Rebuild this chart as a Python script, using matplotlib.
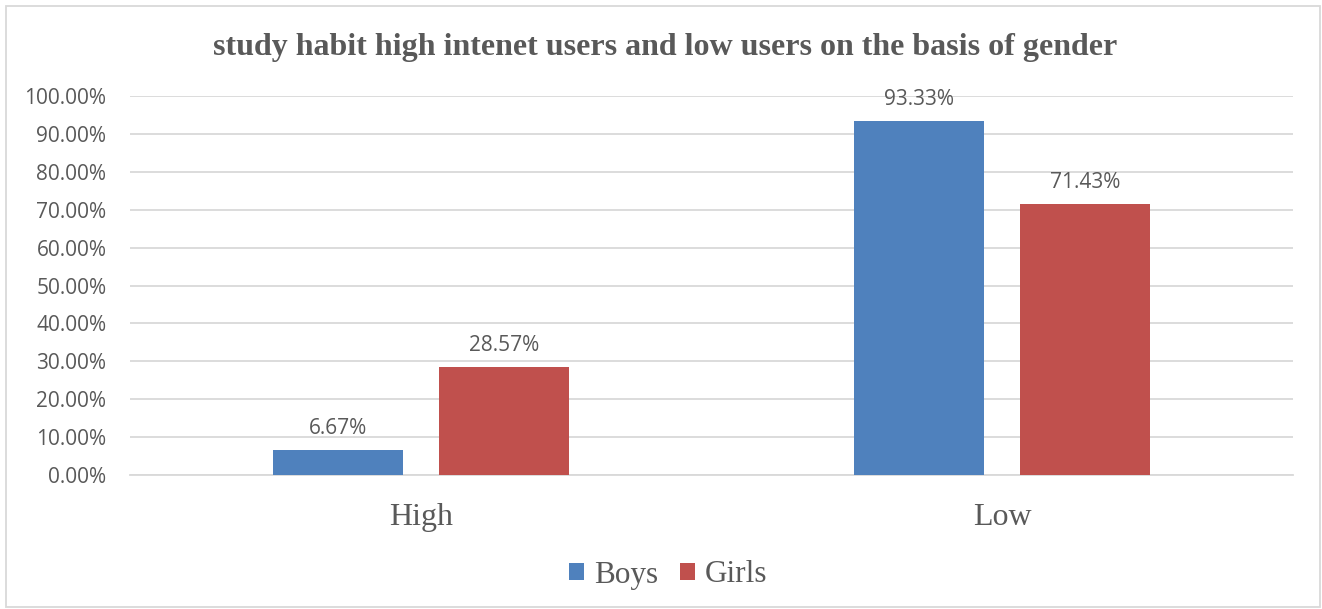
import numpy as np
import matplotlib.pyplot as plt
from matplotlib.patches import Rectangle
from matplotlib.ticker import PercentFormatter

categories = ["High", "Low"]
series_names = ["Boys", "Girls"]
boys = [6.67, 93.33]
girls = [28.57, 71.43]
colors = ["#4F81BD", "#C0504D"]
title = "study habit high intenet users and low users on the basis of gender"

text_gray = "#595959"
grid_gray = "#D9D9D9"

fig = plt.figure(figsize=(13.22, 6.09), dpi=100)
ax = fig.add_axes([130 / 1322, 1 - 475 / 609, 1163 / 1322, 379 / 609])

# outer chart border
fig.patches.append(Rectangle((6 / 1322, 2 / 609), 1314 / 1322, 601 / 609,
                             transform=fig.transFigure, fill=False,
                             edgecolor=grid_gray, linewidth=1.3))

x = np.arange(len(categories))
width = 0.2236
offset = 0.1427

for vals, name, c, d in [(boys, series_names[0], colors[0], -offset),
                         (girls, series_names[1], colors[1], offset)]:
    bars = ax.bar(x + d, vals, width, color=c, label=name, zorder=3)
    for b, v in zip(bars, vals):
        ax.annotate(f"{v:.2f}%", (b.get_x() + b.get_width() / 2, v),
                    xytext=(0, 8), textcoords="offset points",
                    ha="center", va="bottom", fontsize=15,
                    family="Open Sans", color=text_gray)

ax.set_xlim(-0.5, 1.5)
ax.set_ylim(0, 100)
ax.set_yticks(np.arange(0, 101, 10))
ax.yaxis.set_major_formatter(PercentFormatter(decimals=2))
ax.grid(axis="y", color=grid_gray, linewidth=1.3, zorder=0)
ax.set_axisbelow(True)
for s in ["top", "right", "left"]:
    ax.spines[s].set_visible(False)
ax.spines["bottom"].set_color(grid_gray)
ax.spines["bottom"].set_linewidth(1.3)
ax.tick_params(axis="both", length=0)
ax.tick_params(axis="y", pad=17)
ax.tick_params(axis="x", pad=20)
for lab in ax.get_yticklabels():
    lab.set_fontfamily("Open Sans")
    lab.set_fontsize(15)
    lab.set_color(text_gray)
ax.set_xticks(x)
ax.set_xticklabels(categories, fontfamily="Liberation Serif", fontsize=23,
                   color=text_gray)

fig.text(665 / 1322, 1 - 47 / 609, title, ha="center", va="center",
         fontfamily="Liberation Serif", fontweight="bold", fontsize=23,
         color=text_gray)

leg = fig.legend(loc="center", bbox_to_anchor=(668 / 1322, 1 - 575 / 609),
                 ncol=2, frameon=False, handlelength=0.5, handleheight=0.5,
                 handletextpad=0.3, columnspacing=0.7,
                 prop={"family": "Liberation Serif", "size": 22.5})
for t in leg.get_texts():
    t.set_color(text_gray)

fig.savefig("out.png", dpi=100)
